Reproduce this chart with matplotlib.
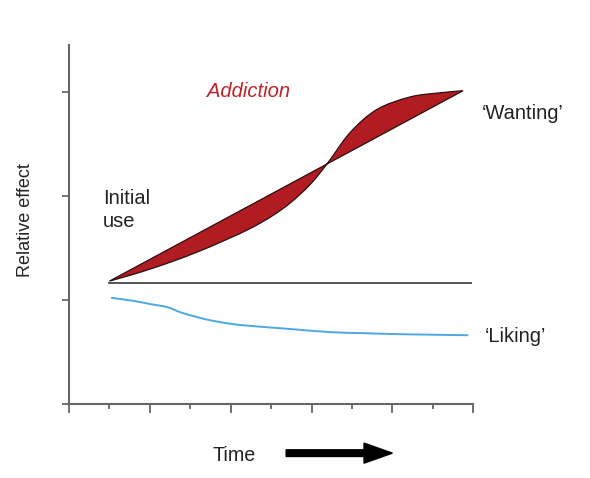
# Schematic of incentive sensitisation: 'wanting' grows with repeated use
# while 'liking' slowly declines.

import matplotlib
matplotlib.use("Agg")

import matplotlib.pyplot as plt
import numpy as np
from matplotlib.patches import FancyArrow, PathPatch
from matplotlib.path import Path

plt.rcParams["font.family"] = ["Liberation Sans", "DejaVu Sans"]

# ---- data (x in tick units, y in y-tick units) -----------------------------
baseline_x = [1.0, 9.95]
baseline_y = [1.16, 1.16]

# straight 'wanting' edge of the shaded band
wanting_line_x = [1.0, 9.75]
wanting_line_y = [1.18, 3.01]

# sigmoid 'wanting' edge (below the line early, above it later)
wanting_curve_x = [1.0, 1.5, 2.0, 2.6, 3.24, 3.9, 4.48, 5.0, 5.47, 5.97,
                   6.39, 6.96, 7.62, 8.44, 9.18, 9.75]
wanting_curve_y = [1.18, 1.235, 1.295, 1.375, 1.47, 1.58, 1.685, 1.80, 1.93, 2.11,
                   2.31, 2.61, 2.83, 2.95, 2.99, 3.01]

liking_x = [1.04, 1.6, 2.0, 2.43, 2.8, 3.42, 4.0, 4.48, 5.47, 6.46, 7.3, 8.19, 9.88]
liking_y = [1.02, 0.99, 0.96, 0.93, 0.875, 0.81, 0.77, 0.75, 0.72, 0.69, 0.68, 0.67, 0.66]

x_ticks = list(range(0, 11))
y_ticks = [0, 1, 2, 3]


def smooth_verts(xs, ys):
    """Catmull-Rom through the points, returned as cubic Bezier vertices."""
    p = np.column_stack([xs, ys]).astype(float)
    ext = np.vstack([p[0], p, p[-1]])
    verts = [p[0]]
    for i in range(len(p) - 1):
        m0 = (ext[i + 2] - ext[i]) / 2
        m1 = (ext[i + 3] - ext[i + 1]) / 2
        verts += [p[i] + m0 / 3, p[i + 1] - m1 / 3, p[i + 1]]
    codes = [Path.MOVETO] + [Path.CURVE4] * (len(verts) - 1)
    return verts, codes


fig = plt.figure(figsize=(5.9, 4.78), dpi=100)
ax = fig.add_axes([0.117, 0.155, 0.685, 0.751])

axis_col = "#666666"

# shaded 'addiction' band: straight line out, sigmoid back
cv, cc = smooth_verts(wanting_curve_x[::-1], wanting_curve_y[::-1])
band_verts = [(wanting_line_x[0], wanting_line_y[0])] + cv + [cv[-1]]
band_codes = [Path.MOVETO, Path.LINETO] + cc[1:] + [Path.CLOSEPOLY]
ax.add_patch(PathPatch(Path(band_verts, band_codes), facecolor="#b01c22",
                       edgecolor="#2a1010", lw=0.9, zorder=3))

ax.plot(baseline_x, baseline_y, color="#555555", lw=1.4, zorder=2)

lv, lc = smooth_verts(liking_x, liking_y)
ax.add_patch(PathPatch(Path(lv, lc), facecolor="none", edgecolor="#4ea8e2",
                       lw=1.4, zorder=2))

ax.set_xlim(0, 10)
ax.set_ylim(0, 3.45)

for s in ("top", "right"):
    ax.spines[s].set_visible(False)
for s in ("left", "bottom"):
    ax.spines[s].set_color(axis_col)
    ax.spines[s].set_linewidth(1.5)

ax.set_xticks(x_ticks[::2])
ax.set_xticks(x_ticks[1::2], minor=True)
ax.set_yticks(y_ticks)
ax.tick_params(axis="x", which="major", direction="out", length=6.5,
               width=1.3, color=axis_col, labelbottom=False)
ax.tick_params(axis="x", which="minor", direction="out", length=3.6,
               width=1.3, color=axis_col)
ax.tick_params(axis="y", direction="out", length=5, width=1.3,
               color=axis_col, labelleft=False)

txt = "#222222"
fig.text(0.350, 0.809, "Addiction", color="#c0222a", style="italic",
         fontsize=14.5, ha="left", va="center")
fig.text(0.175, 0.561, "Initial\nuse", color=txt, fontsize=14.5,
         ha="left", va="center", linespacing=1.3)
fig.text(0.817, 0.763, "\u2018Wanting\u2019", color=txt, fontsize=14.5,
         ha="left", va="center")
fig.text(0.822, 0.295, "\u2018Liking\u2019", color=txt, fontsize=14.5,
         ha="left", va="center")
fig.text(0.043, 0.540, "Relative effect", color=txt, fontsize=13,
         rotation=90, ha="center", va="center")
fig.text(0.396, 0.048, "Time", color=txt, fontsize=14.2,
         ha="center", va="center")

# arrow next to the Time label
fig.patches.append(FancyArrow(
    0.485, 0.052, 0.18, 0, width=0.014, head_width=0.042, head_length=0.048,
    length_includes_head=True, color="black", transform=fig.transFigure,
    figure=fig))

fig.savefig("out.png", dpi=100)
